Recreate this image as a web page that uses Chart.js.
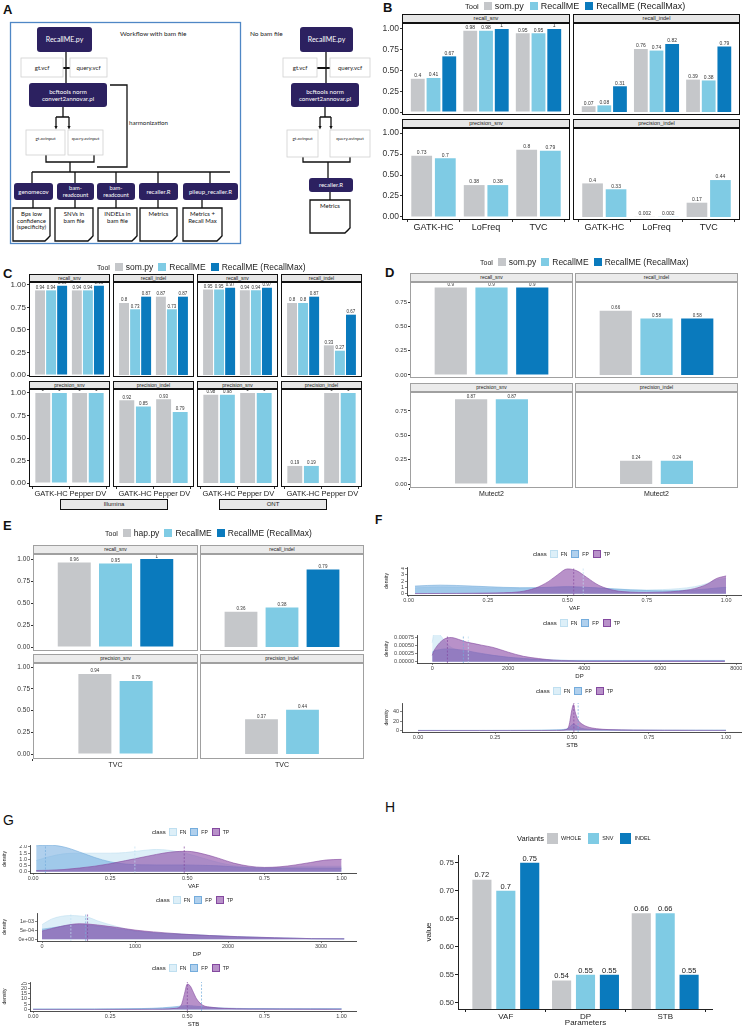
<!DOCTYPE html>
<html>
<head>
<meta charset="utf-8">
<script src="https://cdn.jsdelivr.net/npm/chart.js@4.4.1/dist/chart.umd.min.js"></script>
<style>
  body { margin: 0; background: #fff; width: 743px; height: 1028px; position: relative; overflow: hidden;
         font-family: "Liberation Sans", Arial, sans-serif; color: #222; -webkit-font-smoothing: antialiased; }
  canvas { position: absolute; }
  .txt { will-change: transform; }
</style>
</head>
<body>
<svg id="flow" width="375" height="250" style="position:absolute;left:0;top:0" font-family="Lato, 'Open Sans', sans-serif"></svg>
<script>
// ---------------- data ----------------
const tools = ['som.py', 'RecallME', 'RecallME (RecallMax)'];
const toolsE = ['hap.py', 'RecallME', 'RecallME (RecallMax)'];
const toolColors = ['#c5c7ca', '#7fcbe4', '#0a7abd'];
const barTicks = [0, 0.25, 0.5, 0.75, 1];
const barTicksD = [0, 0.25, 0.5, 0.75];

// B  (rows = tool, cols = caller)
const bCallers = ['GATK-HC', 'LoFreq', 'TVC'];
const bRecallSnv = [[0.4, 0.98, 0.95], [0.41, 0.98, 0.95], [0.67, 1, 1]];
const bRecallIndel = [[0.07, 0.76, 0.39], [0.08, 0.74, 0.38], [0.31, 0.82, 0.79]];
const bPrecisionSnv = [[0.73, 0.38, 0.8], [0.7, 0.38, 0.79]];
const bPrecisionIndel = [[0.4, 0.002, 0.17], [0.33, 0.002, 0.44]];

// C
const cCallers = ['GATK-HC', 'Pepper DV'];
const cIlluRecallSnv = [[0.94, 0.94], [0.94, 0.94], [0.99, 0.99]];
const cIlluRecallIndel = [[0.8, 0.87], [0.73, 0.73], [0.87, 0.87]];
const cIlluPrecisionSnv = [[1, 1], [1, 1]];
const cIlluPrecisionIndel = [[0.92, 0.93], [0.85, 0.79]];
const cOntRecallSnv = [[0.95, 0.94], [0.95, 0.94], [0.97, 0.97]];
const cOntRecallIndel = [[0.8, 0.33], [0.8, 0.27], [0.87, 0.67]];
const cOntPrecisionSnv = [[0.98, 1], [0.98, 1]];
const cOntPrecisionIndel = [[0.19, 1], [0.19, 1]];

// D
const dCallers = ['Mutect2'];
const dRecallSnv = [[0.9], [0.9], [0.9]];
const dRecallIndel = [[0.66], [0.58], [0.58]];
const dPrecisionSnv = [[0.87], [0.87]];
const dPrecisionIndel = [[0.24], [0.24]];

// E (bar heights as drawn, printed labels as shown)
const eCallers = ['TVC'];
const eRecallSnv = [[0.96], [0.95], [1]];
const eRecallIndel = [[0.40], [0.45], [0.88]];
const eRecallIndelText = [['0.36'], ['0.38'], ['0.79']];
const ePrecisionSnv = [[0.92], [0.84]];
const ePrecisionSnvText = [['0.94'], ['0.79']];
const ePrecisionIndel = [[0.40], [0.51]];
const ePrecisionIndelText = [['0.37'], ['0.44']];

// F / G densities  (order FN, FP, TP)
const classes = ['FN', 'FP', 'TP'];
const classFill = ['rgba(198,228,243,0.6)', 'rgba(112,170,222,0.55)', 'rgba(140,78,168,0.62)'];
const classLine = ['#bfdff0', '#74acdc', '#84499f'];

const fVafX = [0.02, 0.06, 0.1, 0.15, 0.2, 0.25, 0.3, 0.35, 0.4, 0.44, 0.47, 0.5, 0.53, 0.56, 0.6, 0.65, 0.7, 0.75, 0.8, 0.85, 0.9, 0.94, 0.97, 1.0];
const fVafFN = [0.9, 1.0, 1.05, 1.0, 0.95, 0.9, 0.85, 0.85, 0.9, 1.0, 1.1, 1.15, 1.1, 1.0, 0.9, 0.75, 0.65, 0.6, 0.65, 0.8, 1.1, 1.6, 2.2, 2.4];
const fVafFP = [1.2, 1.3, 1.35, 1.3, 1.2, 1.1, 1.0, 0.95, 0.95, 1.0, 1.05, 1.1, 1.05, 1.0, 0.9, 0.75, 0.6, 0.5, 0.45, 0.5, 0.6, 0.75, 0.9, 1.0];
const fVafTP = [0.02, 0.03, 0.04, 0.05, 0.07, 0.1, 0.15, 0.3, 0.9, 1.9, 3.0, 3.9, 3.6, 2.6, 1.3, 0.5, 0.25, 0.2, 0.25, 0.4, 0.8, 1.5, 2.4, 2.8];
const fVafMeans = [0.55, null, 0.52];

const fDpX = [0, 50, 100, 200, 300, 400, 500, 700, 900, 1100, 1300, 1600, 2000, 2400, 2800, 3200, 3600, 4000, 5000, 6000, 7000, 7700];
const fDpFN = [0.0006, 0.00092, 0.00095, 0.00085, 0.0007, 0.00055, 0.00045, 0.00035, 0.0003, 0.00027, 0.00024, 0.0002, 0.00014, 0.0001, 0.00007, 0.00005, 0.00004, 0.00004, 0.00003, 0.00003, 0.00003, 0.00003];
const fDpFP = [0.0003, 0.00034, 0.00036, 0.00038, 0.0004, 0.0004, 0.0004, 0.00038, 0.00035, 0.0003, 0.00026, 0.0002, 0.00014, 0.0001, 0.00007, 0.00005, 0.00004, 0.00004, 0.00004, 0.00004, 0.00004, 0.00004];
const fDpTP = [0.0002, 0.00035, 0.00045, 0.0006, 0.0007, 0.00075, 0.00076, 0.0007, 0.00062, 0.00057, 0.00052, 0.00045, 0.0003, 0.00017, 0.0001, 0.00005, 0.00003, 0.00002, 0.00002, 0.00002, 0.00002, 0.00002];
const fDpMeans = [950, 820, 400];

const fStbX = [0, 0.1, 0.2, 0.3, 0.4, 0.45, 0.48, 0.49, 0.5, 0.505, 0.51, 0.52, 0.53, 0.55, 0.58, 0.62, 0.7, 0.8, 0.9, 1.0];
const fStbFN = [0.5, 0.4, 0.4, 0.5, 0.8, 1.2, 2, 3, 4, 4, 3.5, 2.5, 2, 1.5, 1, 0.8, 0.6, 0.5, 0.5, 0.6];
const fStbFP = [0.3, 0.3, 0.3, 0.4, 0.8, 1.5, 3, 6, 12, 14, 12, 8, 5, 3, 2, 1.5, 1, 0.8, 0.8, 0.8];
const fStbTP = [0, 0, 0, 0, 0.1, 0.3, 2, 10, 45, 55, 40, 22, 15, 8, 4, 2, 1, 0.6, 0.4, 0.3];
const fStbMeans = [null, 0.52, 0.506];

const gVafX = [0.01, 0.05, 0.1, 0.15, 0.2, 0.25, 0.3, 0.35, 0.4, 0.45, 0.5, 0.55, 0.6, 0.65, 0.7, 0.75, 0.8, 0.85, 0.9, 0.95, 1.0];
const gVafFN = [0.9, 1.2, 1.45, 1.5, 1.5, 1.5, 1.55, 1.7, 1.8, 1.7, 1.45, 1.1, 0.75, 0.5, 0.38, 0.33, 0.35, 0.4, 0.45, 0.45, 0.45];
const gVafFP = [2.1, 2.15, 2.0, 1.6, 1.15, 0.8, 0.62, 0.56, 0.55, 0.55, 0.55, 0.52, 0.48, 0.4, 0.33, 0.3, 0.3, 0.3, 0.3, 0.3, 0.3];
const gVafTP = [0.1, 0.12, 0.18, 0.3, 0.45, 0.65, 0.9, 1.15, 1.4, 1.6, 1.65, 1.45, 1.1, 0.7, 0.45, 0.35, 0.4, 0.55, 0.75, 0.95, 1.0];
const gVafMeans = [0.33, 0.04, 0.49];

const gDpX = [0, 100, 200, 300, 400, 500, 600, 800, 1000, 1200, 1500, 1800, 2100, 2500, 2900, 3250];
const gDpFN = [0.0008, 0.0011, 0.00125, 0.0013, 0.00128, 0.0012, 0.001, 0.0007, 0.00045, 0.00035, 0.00028, 0.0002, 0.00014, 0.00008, 0.00003, 0.00002];
const gDpFP = [0.00055, 0.00062, 0.0007, 0.00078, 0.0008, 0.00078, 0.00072, 0.00058, 0.00045, 0.00035, 0.00027, 0.0002, 0.00013, 0.00007, 0.00003, 0.00002];
const gDpTP = [0.00045, 0.00058, 0.0007, 0.0008, 0.00085, 0.00083, 0.00078, 0.00065, 0.0005, 0.0004, 0.00028, 0.0002, 0.00014, 0.00008, 0.00003, 0.00002];
const gDpMeans = [310, 470, 490];

const gStbX = [0, 0.2, 0.35, 0.42, 0.46, 0.48, 0.49, 0.5, 0.51, 0.52, 0.53, 0.55, 0.58, 0.62, 0.7, 0.8, 0.9, 1.0];
const gStbFN = [0.5, 0.5, 0.7, 1.0, 1.5, 1.8, 2.0, 2.1, 2.0, 1.9, 1.8, 1.5, 1.2, 1.0, 0.8, 0.7, 0.6, 0.6];
const gStbFP = [0.3, 0.4, 0.8, 1.5, 2.5, 3.2, 3.5, 3.6, 3.5, 3.3, 3.0, 2.5, 1.8, 1.2, 0.8, 0.7, 0.7, 0.7];
const gStbTP = [0, 0, 0.1, 0.3, 1, 4, 14, 24, 22, 16, 10, 4, 2, 1, 0.5, 0.4, 0.3, 0.2];
const gStbMeans = [null, 0.546, 0.5];

// H
const hParams = ['VAF', 'DP', 'STB'];
const hVariants = ['WHOLE', 'SNV', 'INDEL'];
const hValues = [[0.72, 0.54, 0.66], [0.7, 0.55, 0.66], [0.75, 0.55, 0.55]];
const hTicks = [0.5, 0.55, 0.6, 0.65, 0.7, 0.75];

// ---------------- helpers ----------------
Chart.defaults.font.family = '"Liberation Sans", Arial, sans-serif';
Chart.defaults.color = '#333';

function el(tag, css, text) {
  const e = document.createElement(tag);
  e.style.cssText = css;
  if (text != null) e.textContent = text;
  document.body.appendChild(e);
  return e;
}
function letter(t, x, y, size, bold) {
  el('div', `position:absolute;left:${x}px;top:${y}px;font-size:${size}px;line-height:${size}px;font-weight:${bold ? 'bold' : 'normal'};color:#111;`, t);
}
function canvasAt(x, y, w, h) {
  const cv = document.createElement('canvas');
  cv.width = w; cv.height = h;
  cv.style.cssText = `left:${x}px;top:${y}px;width:${w}px;height:${h}px;`;
  document.body.appendChild(cv);
  return cv;
}
function keyRow(x, cy, title, names, fills, s) {
  const row = el('div', `position:absolute;left:${x}px;top:${cy - 10}px;height:20px;width:max-content;display:flex;align-items:center;white-space:nowrap;color:#222;background:#fff;`);
  row.className = 'txt';
  const t = document.createElement('span');
  t.textContent = title;
  t.style.cssText = `flex:none;color:#222;font-size:${s.tfs}px;margin-right:${s.tgap}px;`;
  row.appendChild(t);
  names.forEach((n, i) => {
    const b = document.createElement('span');
    b.style.cssText = `flex:none;display:inline-block;width:${s.box}px;height:${s.box}px;background:${fills[i]};margin-right:${s.bgap}px;box-sizing:border-box;${s.boxBorder ? 'border:1px solid ' + s.boxBorder[i] + ';' : ''}`;
    row.appendChild(b);
    const tx = document.createElement('span');
    tx.textContent = n;
    tx.style.cssText = `flex:none;color:#222;font-size:${s.fs}px;margin-right:${s.igap}px;`;
    row.appendChild(tx);
  });
}

const valueLabels = {
  id: 'valueLabels',
  afterDatasetsDraw(chart, args, opts) {
    const {ctx, chartArea: a} = chart;
    ctx.save();
    ctx.beginPath();
    ctx.rect(a.left, a.top, a.right - a.left, a.bottom - a.top);
    ctx.clip();
    ctx.font = `${opts.size}px "Liberation Sans", Arial, sans-serif`;
    ctx.fillStyle = opts.color;
    ctx.textAlign = 'center';
    ctx.textBaseline = 'bottom';
    chart.data.datasets.forEach((ds, k) => {
      chart.getDatasetMeta(k).data.forEach((bar, i) => {
        const t = ds.texts ? ds.texts[i] : String(ds.data[i].y);
        ctx.fillText(t, bar.x, bar.y - 0.5);
      });
    });
    ctx.restore();
  }
};

function barPanel(o) {
  const axW = o.showY ? o.axW : 0;
  const axH = o.showX ? o.axH : 0;
  const cv = canvasAt(o.x - axW, o.y, o.w + axW, o.h + axH);
  const n = o.cats.length;
  const datasets = o.series.map((vals, k) => ({
    data: vals.map((v, i) => ({x: i + 1, y: v})),
    backgroundColor: toolColors[k],
    borderWidth: 0,
    texts: o.texts ? o.texts[k] : null,
    categoryPercentage: o.catPct * (o.single ? o.series.length / 3 : 1),
    barPercentage: o.barPct
  }));
  new Chart(cv, {
    type: 'bar',
    data: {datasets},
    options: {
      responsive: false, animation: false, devicePixelRatio: 1,
      layout: {padding: 0},
      plugins: {legend: {display: false}, tooltip: {enabled: false},
                valueLabels: {size: o.vfs, color: '#333'}},
      scales: {
        x: {
          type: 'linear', min: 0.4, max: n + 0.6, display: o.showX, offset: false,
          afterBuildTicks: s => { s.ticks = o.cats.map((c, i) => ({value: i + 1})); },
          afterFit: s => { s.height = axH; s.paddingLeft = 0; s.paddingRight = 0; },
          ticks: {callback: v => o.cats[v - 1], font: {size: o.xfs}, color: '#222', padding: 0, maxRotation: 0, autoSkip: false},
          grid: {drawOnChartArea: false, tickLength: 2, color: '#333'},
          border: {display: false}
        },
        y: {
          min: o.yMin, max: o.yMax, display: o.showY,
          afterBuildTicks: s => { s.ticks = o.yTicks.map(v => ({value: v})); },
          afterFit: s => { s.width = axW; s.paddingTop = 0; s.paddingBottom = 0; },
          ticks: {callback: v => v.toFixed(2), font: {size: o.tfs}, color: '#333', padding: 1},
          grid: {drawOnChartArea: false, tickLength: 2, color: '#333'},
          border: {display: false}
        }
      }
    },
    plugins: [valueLabels]
  });
  // panel frame and facet strip
  el('div', `position:absolute;left:${o.x}px;top:${o.y}px;width:${o.w}px;height:${o.h}px;box-sizing:border-box;border:${o.border};`);
  el('div', `position:absolute;left:${o.x}px;top:${o.y - o.sh}px;width:${o.w}px;height:${o.sh}px;box-sizing:border-box;background:${o.stripBg};border:${o.stripBorder};font-size:${o.sfs}px;line-height:${o.sh - 2}px;text-align:center;color:#222;white-space:nowrap;overflow:hidden;`, o.title);
}

function densityPanel(o) {
  const cv = canvasAt(o.x - o.axW, o.y, o.w + o.axW, o.h + o.axH);
  const areas = o.series.map((ys, k) => ({
    data: ys.map((v, i) => ({x: o.xs[i], y: v})),
    fill: 'origin', backgroundColor: classFill[k], borderColor: classLine[k], borderWidth: 0.6,
    pointRadius: 0, tension: 0.4, cubicInterpolationMode: 'monotone', order: 3 - k
  }));
  const means = [];
  o.means.forEach((m, k) => {
    if (m == null) return;
    means.push({
      data: [{x: m, y: o.yMin}, {x: m, y: o.yMax}], borderColor: classLine[k], borderWidth: 0.7,
      borderDash: [2, 1.5], pointRadius: 0, fill: false, order: 0
    });
  });
  new Chart(cv, {
    type: 'line',
    data: {datasets: areas.concat(means)},
    options: {
      responsive: false, animation: false, devicePixelRatio: 1,
      layout: {padding: 0},
      plugins: {legend: {display: false}, tooltip: {enabled: false}},
      scales: {
        x: {
          type: 'linear', min: o.xMin, max: o.xMax, offset: false,
          afterBuildTicks: s => { s.ticks = o.xTicks.map(v => ({value: v})); },
          afterFit: s => { s.height = o.axH; s.paddingLeft = 0; s.paddingRight = 0; },
          ticks: {callback: o.xFmt, font: {size: 5.5}, color: '#444', padding: 0, maxRotation: 0, autoSkip: false},
          grid: {drawOnChartArea: false, tickLength: 2, color: '#333', lineWidth: 0.6},
          border: {display: true, color: '#222', width: 0.8},
          title: {display: true, text: o.xTitle, font: {size: 6}, color: '#222', padding: 0}
        },
        y: {
          min: o.yMin, max: o.yMax,
          afterBuildTicks: s => { s.ticks = o.yTicks.map(v => ({value: v})); },
          afterFit: s => { s.width = o.axW; s.paddingTop = 0; s.paddingBottom = 0; },
          ticks: {callback: o.yFmt, font: {size: 5.5}, color: '#444', padding: 1, autoSkip: false},
          grid: {drawOnChartArea: false, tickLength: 2, color: '#333', lineWidth: 0.6},
          border: {display: true, color: '#222', width: 0.8},
          title: {display: true, text: 'density', font: {size: 5}, color: '#222', padding: 0}
        }
      }
    }
  });
}

// ---------------- panel A (workflow) ----------------
(function buildFlow() {
  const darkNodes = [
    [37, 27, 55, 25, ['RecallME.py'], 7],
    [29, 83, 78, 24, ['bcftools norm', 'convert2annovar.pl'], 6.2],
    [14, 183, 39, 17, ['genomecov'], 6],
    [57, 183, 37, 17, ['bam-', 'readcount'], 5.8],
    [97, 183, 38, 17, ['bam-', 'readcount'], 5.8],
    [139, 183, 39, 17, ['recaller.R'], 6],
    [183, 183, 55, 17, ['pileup_recaller.R'], 6],
    [300, 27, 53, 25, ['RecallME.py'], 7],
    [291, 83, 68, 24, ['bcftools norm', 'convert2annovar.pl'], 6.2],
    [309, 178, 44, 14, ['recaller.R'], 6]
  ];
  const files = [
    [21, 58, 42, 19, 'gt.vcf', 6], [70, 58, 37, 19, 'query.vcf', 6],
    [26, 130, 39, 25, 'gt.avinput', 4.6], [68, 130, 35, 25, 'query.avinput', 4.6],
    [283, 58, 34, 19, 'gt.vcf', 6], [330, 58, 40, 19, 'query.vcf', 6],
    [287, 130, 31, 27, 'gt.avinput', 4.6], [330, 130, 40, 27, 'query.avinput', 4.6]
  ];
  const docs = [
    [13, 208, 37, 33, ['Bps low', 'confidence', '(specificity)']],
    [55, 208, 38, 33, ['SNVs in', 'bam file']],
    [98, 208, 39, 33, ['INDELs in', 'bam file']],
    [140, 208, 37, 33, ['Metrics']],
    [183, 208, 39, 33, ['Metrics +', 'Recall Max']],
    [310, 200, 40, 33, ['Metrics']]
  ];
  const wires = [
    'M66 52V83', 'M63 107V117M56 117H69M56 117V126M69 117V126',
    'M46 155V162H94V155M70 162V172', 'M32 172H230',
    'M32 172V183M75 172V183M116 172V183M158 172V183M210 172V183',
    'M33 200V208M75 200V208M116 200V208M158 200V208M202 200V208',
    'M110 85H127V167H97',
    'M326 52V83', 'M325 107V117M320 117H331M320 117V126M331 117V126',
    'M303 157V162H350V157M328 162V178', 'M330 192V200'
  ];
  let s = '';
  s += '<rect x="10.5" y="22.5" width="230" height="221" fill="none" stroke="#4f87c5" stroke-width="1.3"/>';
  s += '<text x="3" y="14" font-family="Liberation Sans" font-weight="bold" font-size="13" fill="#111">A</text>';
  s += '<text x="120" y="36" font-size="6.5" fill="#222">Workflow with bam file</text>';
  s += '<text x="250" y="36" font-size="6.5" fill="#222">No bam file</text>';
  s += '<text x="129" y="125" font-size="6.2" fill="#222">harmonization</text>';
  s += '<g stroke="#111" stroke-width="1.3" fill="none">' + wires.map(d => `<path d="${d}"/>`).join('') + '</g>';
  s += '<path d="M61 68H72M317 68H331" stroke="#111" stroke-width="2"/>';
  [56, 69, 320, 331].forEach(x => { s += `<polygon points="${x - 1.6},126 ${x + 1.6},126 ${x},129.5" fill="#111"/>`; });
  files.forEach(([x, y, w, h, t, fs]) => {
    s += `<rect x="${x}" y="${y}" width="${w}" height="${h}" fill="#fff" stroke="#d0d0d0" stroke-width="0.8"/>`;
    s += `<text x="${x + w / 2}" y="${y + (fs < 5 ? 10 : h / 2 + 2)}" font-size="${fs}" text-anchor="middle" fill="#222">${t}</text>`;
  });
  darkNodes.forEach(([x, y, w, h, lines, fs]) => {
    s += `<rect x="${x}" y="${y}" width="${w}" height="${h}" rx="3" fill="#2c2160"/>`;
    const lh = fs * 1.15, y0 = y + h / 2 - (lines.length - 1) * lh / 2 + fs * 0.35;
    lines.forEach((t, i) => { s += `<text x="${x + w / 2}" y="${y0 + i * lh}" font-size="${fs}" text-anchor="middle" fill="#fff">${t}</text>`; });
  });
  docs.forEach(([x, y, w, h, lines]) => {
    s += `<path d="M${x} ${y}H${x + w}V${y + h - 5}L${x + w - 5} ${y + h}H${x}Z" fill="#fff" stroke="#111" stroke-width="1.3"/>`;
    s += `<path d="M${x + w + 0.6} ${y + h - 6}L${x + w - 6} ${y + h + 0.6}L${x + w - 2} ${y + h - 2}Z" fill="#111"/>`;
    const lh = 6.6;
    lines.forEach((t, i) => { s += `<text x="${x + w / 2}" y="${y + 8 + i * lh}" font-size="6" text-anchor="middle" fill="#111">${t}</text>`; });
  });
  document.getElementById('flow').innerHTML = s;
})();

// ---------------- panel B ----------------
letter('B', 383, 1, 13, true);
keyRow(465, 6, 'Tool', tools, toolColors, {tfs: 7.5, fs: 9, box: 8, tgap: 5, bgap: 3, igap: 6});
const bBase = {cats: bCallers, catPct: 0.9, barPct: 0.88, single: false, yTicks: barTicks, axW: 30, axH: 14,
  tfs: 8.5, xfs: 9, vfs: 5, sfs: 5.5, sh: 9, border: '1.5px solid #111', stripBg: '#e6e6e6', stripBorder: '1px solid #111'};
barPanel({...bBase, x: 402, y: 23, w: 168, h: 92, yMin: -0.036, yMax: 1.072, showY: true, showX: false, series: bRecallSnv, title: 'recall_snv'});
barPanel({...bBase, x: 573, y: 23, w: 167, h: 92, yMin: -0.036, yMax: 1.072, showY: false, showX: false, series: bRecallIndel, title: 'recall_indel'});
barPanel({...bBase, x: 402, y: 128, w: 168, h: 92, yMin: -0.036, yMax: 1.06, showY: true, showX: true, series: bPrecisionSnv, title: 'precision_snv'});
barPanel({...bBase, x: 573, y: 128, w: 167, h: 92, yMin: -0.036, yMax: 1.06, showY: false, showX: true, series: bPrecisionIndel, title: 'precision_indel'});

// ---------------- panel C ----------------
letter('C', 3, 267, 13, true);
keyRow(97, 267, 'Tool', tools, toolColors, {tfs: 7, fs: 8.5, box: 8, tgap: 5, bgap: 3, igap: 5});
const cBase = {cats: cCallers, catPct: 0.9, barPct: 0.9, single: false, yTicks: barTicks, axW: 28, axH: 11,
  tfs: 8, xfs: 7.5, vfs: 4.5, sfs: 5, sh: 8, border: '1.5px solid #111', stripBg: '#e6e6e6', stripBorder: '1px solid #111'};
const cCols = [29, 113, 197, 281];
const cTop = [cIlluRecallSnv, cIlluRecallIndel, cOntRecallSnv, cOntRecallIndel];
const cBottom = [cIlluPrecisionSnv, cIlluPrecisionIndel, cOntPrecisionSnv, cOntPrecisionIndel];
const cTopTitles = ['recall_snv', 'recall_indel', 'recall_snv', 'recall_indel'];
const cBottomTitles = ['precision_snv', 'precision_indel', 'precision_snv', 'precision_indel'];
cCols.forEach((x, j) => {
  barPanel({...cBase, x, y: 282, w: 81, h: 95, yMin: -0.022, yMax: 1.033, showY: j === 0, showX: false, series: cTop[j], title: cTopTitles[j]});
  barPanel({...cBase, x, y: 389, w: 81, h: 98, yMin: -0.044, yMax: 1.044, showY: j === 0, showX: true, series: cBottom[j], title: cBottomTitles[j]});
});
el('div', 'position:absolute;left:60px;top:499px;width:108px;height:11px;box-sizing:border-box;background:#e8e8e8;border:1px solid #111;font-size:6px;line-height:9px;text-align:center;', 'Illumina');
el('div', 'position:absolute;left:219px;top:499px;width:108px;height:11px;box-sizing:border-box;background:#e8e8e8;border:1px solid #111;font-size:6px;line-height:9px;text-align:center;', 'ONT');

// ---------------- panel D ----------------
letter('D', 385, 266, 13, true);
keyRow(480, 262, 'Tool', tools, toolColors, {tfs: 7, fs: 8.5, box: 8, tgap: 5, bgap: 3, igap: 5});
const dBase = {cats: dCallers, catPct: 0.75, barPct: 0.79, single: true, yTicks: barTicksD, axW: 17, axH: 11,
  tfs: 6, xfs: 7, vfs: 4.5, sfs: 5, sh: 9, border: '1px solid #a0a0a0', stripBg: '#ebebeb', stripBorder: '1px solid #a0a0a0'};
barPanel({...dBase, x: 410, y: 282, w: 163, h: 96, yMin: -0.031, yMax: 0.956, showY: true, showX: false, series: dRecallSnv, title: 'recall_snv'});
barPanel({...dBase, x: 575, y: 282, w: 163, h: 96, yMin: -0.031, yMax: 0.956, showY: false, showX: false, series: dRecallIndel, title: 'recall_indel'});
barPanel({...dBase, x: 410, y: 392, w: 163, h: 96, yMin: -0.041, yMax: 0.945, showY: true, showX: true, series: dPrecisionSnv, title: 'precision_snv'});
barPanel({...dBase, x: 575, y: 392, w: 163, h: 96, yMin: -0.041, yMax: 0.945, showY: false, showX: true, series: dPrecisionIndel, title: 'precision_indel'});

// ---------------- panel E ----------------
letter('E', 3, 519, 13, true);
keyRow(105, 533, 'Tool', toolsE, toolColors, {tfs: 7, fs: 8.5, box: 8, tgap: 5, bgap: 3, igap: 5});
const eBase = {cats: eCallers, catPct: 0.75, barPct: 0.8, single: true, yTicks: barTicks, axW: 18, axH: 11,
  tfs: 6.5, xfs: 7, vfs: 4.5, sfs: 5, sh: 9, border: '1px solid #a0a0a0', stripBg: '#ebebeb', stripBorder: '1px solid #a0a0a0'};
barPanel({...eBase, x: 33, y: 554, w: 165, h: 97, yMin: -0.045, yMax: 1.057, showY: true, showX: false, series: eRecallSnv, title: 'recall_snv'});
barPanel({...eBase, x: 200, y: 554, w: 164, h: 97, yMin: -0.045, yMax: 1.057, showY: false, showX: false, series: eRecallIndel, texts: eRecallIndelText, title: 'recall_indel'});
barPanel({...eBase, x: 33, y: 663, w: 165, h: 96, yMin: -0.057, yMax: 1.046, showY: true, showX: true, series: ePrecisionSnv, texts: ePrecisionSnvText, title: 'precision_snv'});
barPanel({...eBase, x: 200, y: 663, w: 164, h: 96, yMin: -0.057, yMax: 1.046, showY: false, showX: true, series: ePrecisionIndel, texts: ePrecisionIndelText, title: 'precision_indel'});

// ---------------- panels F and G ----------------
const classKey = {tfs: 6, fs: 5, box: 8, tgap: 3, bgap: 3, igap: 4, boxBorder: classLine};
const fix2 = v => v.toFixed(2);
const sci = v => v.toExponential(0).replace(/e([+-])(\d)$/, 'e$10$2');
letter('F', 375, 514, 12, true);
keyRow(533, 554, 'class', classes, classFill, classKey);
densityPanel({x: 407, y: 567, w: 335, h: 28, axW: 23, axH: 17, xs: fVafX, series: [fVafFN, fVafFP, fVafTP], means: fVafMeans,
  xMin: -0.005, xMax: 1.05, yMin: -0.2, yMax: 4.2, xTicks: [0, 0.25, 0.5, 0.75, 1], yTicks: [0, 1, 2, 3, 4], xFmt: fix2, yFmt: String, xTitle: 'VAF'});
keyRow(543, 623, 'class', classes, classFill, classKey);
densityPanel({x: 417, y: 635, w: 325, h: 28, axW: 33, axH: 17, xs: fDpX, series: [fDpFN, fDpFP, fDpTP], means: fDpMeans,
  xMin: -400, xMax: 8150, yMin: -0.00004, yMax: 0.00084, xTicks: [0, 2000, 4000, 6000, 8000], yTicks: [0, 0.00025, 0.0005, 0.00075], xFmt: String, yFmt: v => v.toFixed(5), xTitle: 'DP'});
keyRow(536, 691, 'class', classes, classFill, classKey);
densityPanel({x: 402, y: 703, w: 340, h: 29, axW: 18, axH: 17, xs: fStbX, series: [fStbFN, fStbFP, fStbTP], means: fStbMeans,
  xMin: -0.052, xMax: 1.052, yMin: -3, yMax: 58, xTicks: [0, 0.25, 0.5, 0.75, 1], yTicks: [0, 20, 40], xFmt: fix2, yFmt: String, xTitle: 'STB'});

letter('G', 3, 813, 14, false);
keyRow(152, 832, 'class', classes, classFill, classKey);
densityPanel({x: 30, y: 845, w: 327, h: 28, axW: 28, axH: 17, xs: gVafX, series: [gVafFN, gVafFP, gVafTP], means: gVafMeans,
  xMin: -0.01, xMax: 1.05, yMin: -0.1, yMax: 2.16, xTicks: [0, 0.25, 0.5, 0.75, 1], yTicks: [0, 0.5, 1, 1.5, 2], xFmt: fix2, yFmt: v => v.toFixed(1), xTitle: 'VAF'});
keyRow(156, 900, 'class', classes, classFill, classKey);
densityPanel({x: 37, y: 913, w: 320, h: 28, axW: 35, axH: 17, xs: gDpX, series: [gDpFN, gDpFP, gDpTP], means: gDpMeans,
  xMin: -54, xMax: 3387, yMin: -0.0001, yMax: 0.00144, xTicks: [0, 1000, 2000, 3000], yTicks: [0, 0.0005, 0.001], xFmt: String, yFmt: sci, xTitle: 'DP'});
keyRow(152, 968, 'class', classes, classFill, classKey);
densityPanel({x: 30, y: 982, w: 327, h: 29, axW: 28, axH: 17, xs: gStbX, series: [gStbFN, gStbFP, gStbTP], means: gStbMeans,
  xMin: -0.01, xMax: 1.05, yMin: -1.5, yMax: 26, xTicks: [0, 0.25, 0.5, 0.75, 1], yTicks: [0, 5, 10, 15, 20, 25], xFmt: fix2, yFmt: String, xTitle: 'STB'});

// ---------------- panel H ----------------
letter('H', 385, 800, 14, false);
keyRow(517, 838, 'Variants', hVariants, toolColors, {tfs: 7.5, fs: 5.5, box: 11, tgap: 3, bgap: 3, igap: 7});
(function hChart() {
  const x = 458, y = 855, w = 255, h = 154, axW = 34, axH = 19;
  const cv = canvasAt(x - axW, y, w + axW, h + axH);
  new Chart(cv, {
    type: 'bar',
    data: {
      datasets: hVariants.map((name, k) => ({
        label: name,
        data: hValues[k].map((v, i) => ({x: i + 1, y: v})),
        backgroundColor: toolColors[k], borderWidth: 0,
        categoryPercentage: 0.9, barPercentage: 0.8
      }))
    },
    options: {
      responsive: false, animation: false, devicePixelRatio: 1,
      layout: {padding: 0},
      plugins: {legend: {display: false}, tooltip: {enabled: false}, valueLabels: {size: 7.5, color: '#222'}},
      scales: {
        x: {
          type: 'linear', min: 0.4, max: 3.6, offset: false,
          afterBuildTicks: s => { s.ticks = hParams.map((p, i) => ({value: i + 1})); },
          afterFit: s => { s.height = axH; s.paddingLeft = 0; s.paddingRight = 0; },
          ticks: {callback: v => hParams[v - 1], font: {size: 8}, color: '#222', padding: 0, maxRotation: 0, autoSkip: false},
          grid: {drawOnChartArea: false, tickLength: 3, color: '#222'},
          border: {display: true, color: '#222', width: 1},
          title: {display: true, text: 'Parameters', font: {size: 8}, color: '#222', padding: 0}
        },
        y: {
          min: 0.489, max: 0.764,
          afterBuildTicks: s => { s.ticks = hTicks.map(v => ({value: v})); },
          afterFit: s => { s.width = axW; s.paddingTop = 0; s.paddingBottom = 0; },
          ticks: {callback: v => v.toFixed(2), font: {size: 7.5}, color: '#333', padding: 1},
          grid: {drawOnChartArea: false, tickLength: 3, color: '#222'},
          border: {display: true, color: '#222', width: 1},
          title: {display: true, text: 'value', font: {size: 8}, color: '#222', padding: 0}
        }
      }
    },
    plugins: [valueLabels]
  });
})();
</script>
</body>
</html>
